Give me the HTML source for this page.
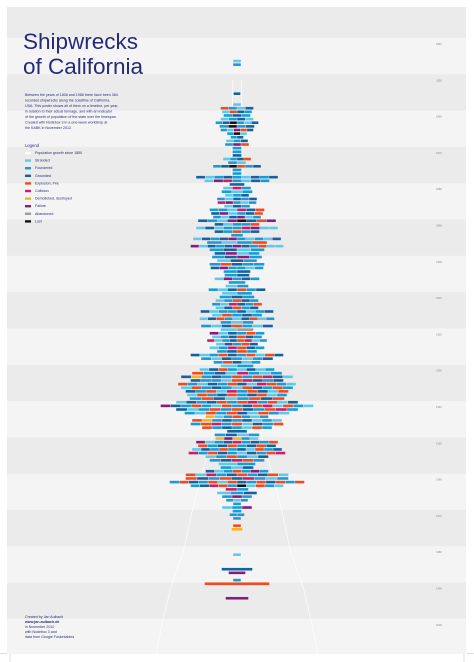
<!DOCTYPE html>
<html><head><meta charset="utf-8">
<style>
html,body{margin:0;padding:0;background:#fff;}
body{width:474px;height:662px;overflow:hidden;position:relative;font-family:"Liberation Sans",sans-serif;}
svg{position:absolute;left:0;top:0;}
</style></head>
<body>
<svg id="chart" width="474" height="662" viewBox="0 0 474 662">
  <g id="bands"></g>
  <g id="pop"></g>
  <g id="bars"></g>
  <g id="ticks"></g>
  <g fill="#262a7a" font-size="22.5">
    <text x="23" y="49">Shipwrecks</text>
    <text x="23" y="74">of California</text>
  </g>
  <g fill="#262a7a" font-size="3.6">
    <text x="25" y="96">Between the years of 1806 and 1988 there have been 384</text>
    <text x="25" y="101.5">recorded shipwrecks along the coastline of California,</text>
    <text x="25" y="107">USA. This poster shows all of them on a timeline, per year,</text>
    <text x="25" y="112.5">in relation to their actual tonnage, and with an indicator</text>
    <text x="25" y="118">of the growth of population of the state over the timespan.</text>
    <text x="25" y="123.5">Created with Nodebox 3 in a one-week workshop at</text>
    <text x="25" y="129">the KABK in November 2012.</text>
  </g>
  <g id="legend" font-size="3.6" fill="#262a7a">
    <text x="25" y="147" font-size="4.2">Legend</text>
  </g>
  <g fill="#262a7a" font-size="3.6">
    <text x="25" y="618">Created by Jan Aulbach</text>
    <text x="25" y="623" font-weight="bold">www.jan-aulbach.de</text>
    <text x="25" y="628">in November 2012</text>
    <text x="25" y="633">with Nodebox 3 and</text>
    <text x="25" y="638">data from Google Fusiontables</text>
  </g>
  <g stroke="#bbb" stroke-width="0.5">
    <line x1="10" y1="654" x2="10" y2="662"/><line x1="464" y1="654" x2="464" y2="662"/>
    <line x1="0" y1="653.5" x2="7" y2="653.5"/><line x1="467" y1="653.5" x2="474" y2="653.5"/>
  </g>
</svg>
<script>
// ---- data ----
const decadeLabels = [1840,1850,1860,1870,1880,1890,1900,1910,1920,1930,1940,1950,1960,1970,1980,1990,2000];
const wreckYears = [1844,1845,1853,1856,1857,1858,1859,1860,1861,1862,1863,1864,1865,1866,1867,1868,1869,1870,1871,1872,1873,1874,1875,1876,1877,1878,1879,1880,1881,1882,1883,1884,1885,1886,1887,1888,1889,1890,1891,1892,1893,1894,1895,1896,1897,1898,1899,1900,1901,1902,1903,1904,1905,1906,1907,1908,1909,1910,1911,1912,1913,1914,1915,1916,1917,1918,1919,1920,1921,1922,1923,1924,1925,1926,1927,1928,1929,1930,1931,1932,1933,1934,1935,1936,1937,1938,1939,1940,1941,1942,1943,1944,1945,1946,1947,1948,1949,1950,1951,1952,1953,1954,1955,1956,1957,1958,1959,1960,1961,1962,1963,1964,1965,1966,1967,1968,1969,1970,1972,1973,1980,1984,1985,1987,1988,1992,1996];
const wreckTonnage = [8,8,7,8,33,30,27,33,43,35,33,20,13,22,24,9,9,9,28,18,48,9,9,82,65,15,28,31,24,40,39,26,55,52,48,78,45,82,45,12,88,60,93,55,45,50,40,55,53,27,25,45,17,23,57,30,35,43,50,43,73,50,75,33,72,33,55,50,60,42,55,40,93,72,47,33,75,90,112,93,118,112,103,100,95,122,153,122,105,63,90,93,70,20,45,43,82,78,90,97,63,55,37,33,63,103,103,135,93,23,40,30,22,8,30,9,15,8,8,11,8,31,17,8,65,23];
const wreckTypes = ["a","b","c","a","dbac","adcb","bcb","abca","bcibac","bibc","bagdc","bia","bc","abc","bgd","b","b","c","abcd","ba","bcidbc","b","b","cabcbacbc","agebacb","c","aeb","bab","abc","bacbc","egbab","acb","bbaecd","cgabcd","bacgab","cbagicdg","cabbd","acabbegaa","cbdbc","b","acbcgbabac","babd","gacbcgcbdaa","bcab","cgab","bcgb","acb","bdcbb","cgbbab","bc","bc","agbcb","b","ab","bacdbc","ab","bcb","abdcb","baecbd","acdbc","cabbcabc","adbcb","acdbacdab","bab","bacdbac","ah","gacbdb","abcdcb","eabcdeab","acbdc","abedcb","bcdb","cabdcbdadc","bacbabc","bdcab","ab","acdbacab","dbcaebab","cfbcbdbdeca","cbbadecbc","dbacbdcaedba","adbcbadcbdb","cbdaebdcad","adbcdbcdab","bdcabdcd","acbcdbdebdac","gcbdbadbcdeadba","cabdbdcbdeb","badbdcadba","fabdbab","dfbcbcaba","bdebdacbd","dbcbadb","c","bcab","fgfba","gabcebcbd","dbcdbcdc","acbdbcadbc","ebdcbacbde","abdbac","bcedb","ab","bac","cabdbgb","daebcdbcda","dcbdcebab","bdcbdadcbdcdbd","bcedbiadba","eb","abc","bgb","bab","b","abg","b","bb","b","d","f","a","c","g","b","d","g"];
const popYears = [1850,1860,1870,1880,1890,1900,1910,1920,1930,1940,1950,1960,1970,1980,1990,2000,2008];
const popMillions = [0.09,0.38,0.56,0.86,1.21,1.49,2.38,3.43,5.68,6.91,10.59,15.72,19.95,23.67,29.76,33.87,36.6];
const legendLabels = ["Population growth since 1850","Stranded","Foundered","Grounded","Explosion, Fire","Collision","Demolished, destroyed","Failure","Abandoned","Lost"];
const legendCodes = ["p","a","b","c","d","e","f","g","h","i"];
const typeColor = {a:"#5ec9ea",b:"#1a9bd7",c:"#17619f",d:"#f04a1e",e:"#d41a66",f:"#f5b31c",g:"#8a1b7e",h:"#9c9c9c",i:"#141414",p:"#ffffff"};

// ---- scales ----
const NS="http://www.w3.org/2000/svg";
const yScale = yr => 44 + (yr - 1840) * 3.63;
const cx = 237;
const popHalf = m => 4 + 2.1 * m;

const bands = document.getElementById('bands');
const bg = document.createElementNS(NS,'rect');
bg.setAttribute('x',7);bg.setAttribute('y',7);bg.setAttribute('width',459);bg.setAttribute('height',647);bg.setAttribute('fill','#ebebec');


bands.appendChild(bg);
const ticks = document.getElementById('ticks');
decadeLabels.forEach((d,i)=>{
  const top = yScale(d) - 6;
  if(i % 2 === 0){
    const r=document.createElementNS(NS,'rect');
    r.setAttribute('x',7);r.setAttribute('y',top);r.setAttribute('width',459);
    r.setAttribute('height',Math.min(36.3,654-top));r.setAttribute('fill','#f4f4f5');
    
    
    bands.appendChild(r);
  }
  const t=document.createElementNS(NS,'text');
  t.setAttribute('x',436);t.setAttribute('y',yScale(d)+1);t.setAttribute('font-size','2.6');t.setAttribute('fill','#888');
  t.textContent = d;
  
  
  ticks.appendChild(t);
});

// population lines
const pop = document.getElementById('pop');
['L','R'].forEach(side=>{
  const pts = popYears.map((y,i)=>{
    const h = popHalf(popMillions[i]) * (side==='L'?-1:1);
    return (cx+h).toFixed(1)+','+yScale(y).toFixed(1);
  }).join(' ');
  const pl=document.createElementNS(NS,'polyline');
  pl.setAttribute('points',pts);pl.setAttribute('fill','none');pl.setAttribute('stroke','#fff');pl.setAttribute('stroke-width','0.7');pl.setAttribute('stroke-opacity','0.9');
  
  
  pop.appendChild(pl);
});

// bars
const bars = document.getElementById('bars');
wreckYears.forEach((yr,i)=>{
  const w = wreckTonnage[i], types = wreckTypes[i] || "b";
  const n = types.length, sw = w / n;
  const y = yScale(yr) + 1.2;
  for(let j=0;j<n;j++){
    const r=document.createElementNS(NS,'rect');
    r.setAttribute('x',(cx - w/2 + j*sw + 0.2).toFixed(2));
    r.setAttribute('y',y.toFixed(2));
    r.setAttribute('width',Math.max(0.5,sw-0.4).toFixed(2));
    r.setAttribute('height',2.6);
    r.setAttribute('fill',typeColor[types[j]]);
    
    
    bars.appendChild(r);
  }
});

// legend
const legend = document.getElementById('legend');
legendLabels.forEach((lab,i)=>{
  const y = 154 + i*7.6;
  const r=document.createElementNS(NS,'rect');
  r.setAttribute('x',25);r.setAttribute('y',y-2.2);r.setAttribute('width',6);r.setAttribute('height',2.4);
  r.setAttribute('fill',typeColor[legendCodes[i]]);
  
  
  legend.appendChild(r);
  const t=document.createElementNS(NS,'text');
  t.setAttribute('x',35);t.setAttribute('y',y);t.textContent=lab;
  
  
  legend.appendChild(t);
});
</script>
</body></html>
